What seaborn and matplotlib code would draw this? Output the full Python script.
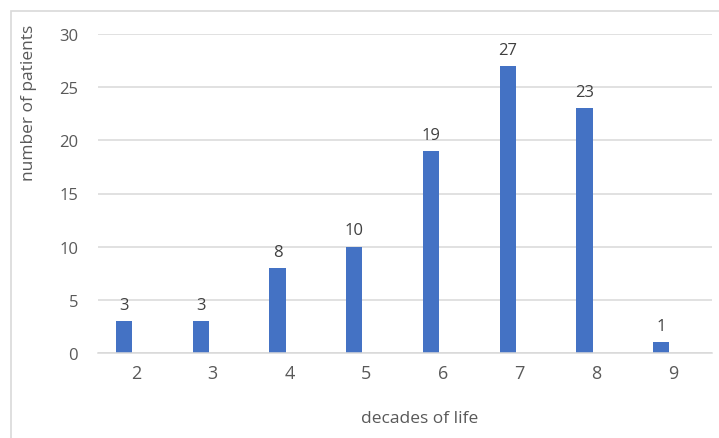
import pandas as pd
import numpy as np
import matplotlib.pyplot as plt
import seaborn as sns
from matplotlib.patches import Rectangle

# valeurs
decades = ["2", "3", "4", "5", "6", "7", "8", "9"]
patients = [3, 3, 8, 10, 19, 27, 23, 1]
y_ticks = [0, 5, 10, 15, 20, 25, 30]

df = pd.DataFrame({"decade": decades, "patients": patients, "serie": "patients"})

sns.set_style("white")
plt.rcParams['font.family'] = ['Open Sans', 'DejaVu Sans']

fig = plt.figure(figsize=(7.19, 4.39), dpi=100)
ax = fig.add_axes([97.6 / 719, 1 - 354 / 439, 614 / 719, 319 / 439])

# bordure grise du graphique (style Excel)
fig.patches.append(Rectangle((11 / 719, -0.1), 1.2, 1 - 12 / 439 + 0.1,
                             transform=fig.transFigure, fill=False,
                             edgecolor='#d9d9d9', linewidth=1.2))

# deuxieme serie vide pour garder le decalage des barres
sns.barplot(data=df, x="decade", y="patients", hue="serie",
            hue_order=["patients", "vide"], order=decades,
            palette={"patients": "#4472C4", "vide": "#ED7D31"},
            dodge=True, width=0.626, gap=0.32, saturation=1,
            linewidth=0, legend=False, ax=ax)

for c in ax.containers:
    ax.bar_label(c, padding=6, fontsize=12, color='#404040')

ax.set_ylim(0, 30)
ax.set_yticks(y_ticks)
ax.set_xlim(-0.5, len(decades) - 0.5)
ax.grid(axis='y', color='#d9d9d9', linewidth=1.1)
ax.set_axisbelow(True)
for s in ['top', 'right', 'left']:
    ax.spines[s].set_visible(False)
ax.spines['bottom'].set_color('#d9d9d9')
ax.spines['bottom'].set_linewidth(1.1)

ax.tick_params(axis='y', length=0, labelsize=12, labelcolor='#595959', pad=14)
ax.tick_params(axis='x', length=0, labelsize=13, labelcolor='#595959', pad=8)

ax.set_xlabel("decades of life", fontsize=12.5, color='#595959')
ax.set_ylabel("number of patients", fontsize=12.5, color='#595959')
ax.xaxis.set_label_coords(0.524, -0.179)
ax.yaxis.set_label_coords(-0.099, 0.787)

plt.savefig("out.png", dpi=100)
